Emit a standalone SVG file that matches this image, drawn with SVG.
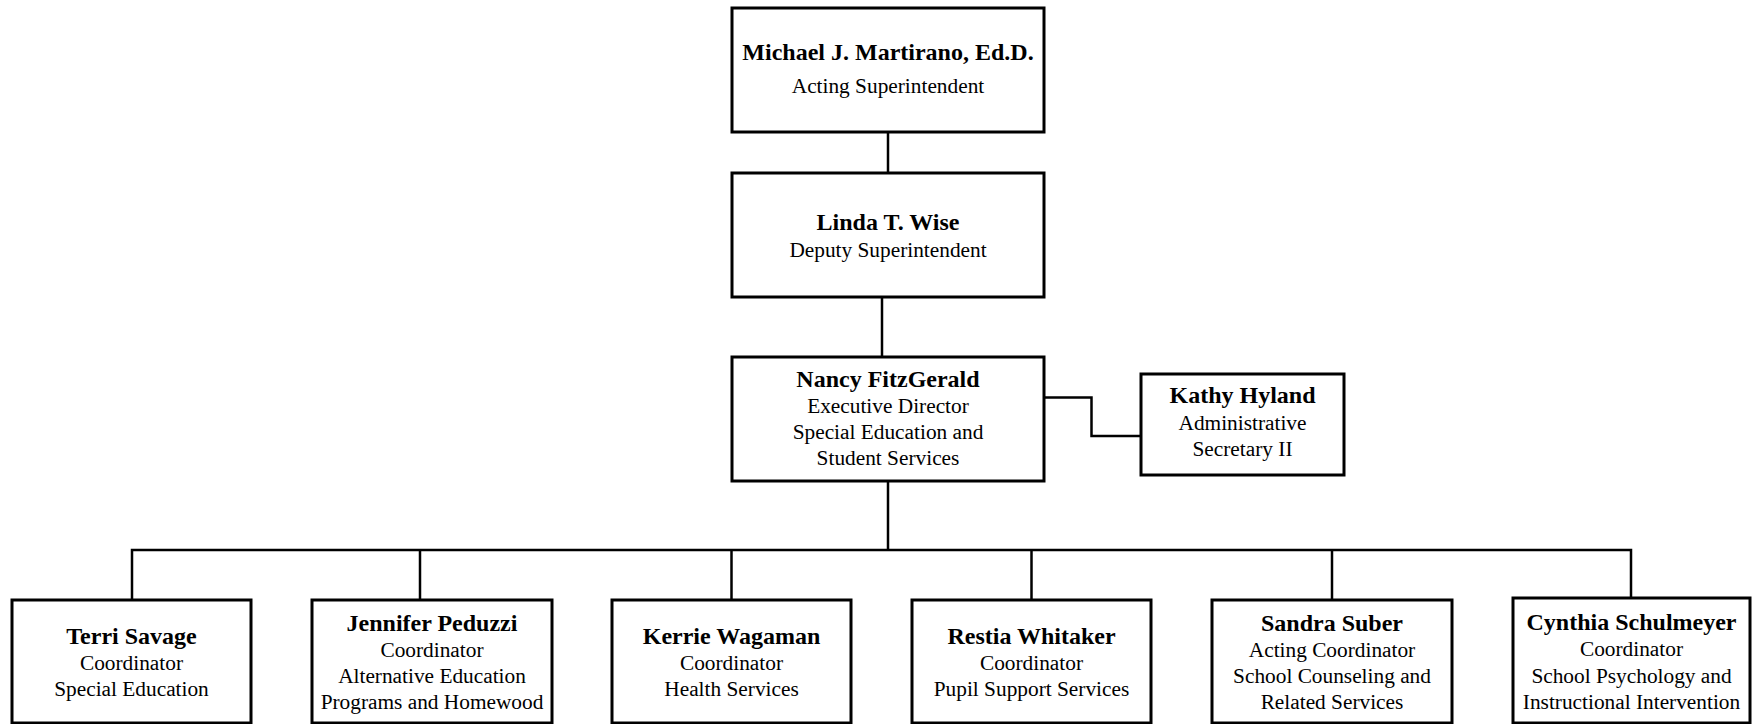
<svg xmlns="http://www.w3.org/2000/svg" width="1754" height="724" viewBox="0 0 1754 724">
<style>
.box{fill:#fff;stroke:#000;stroke-width:3}
.ln{fill:none;stroke:#000;stroke-width:2.5}
text{font-family:"Liberation Serif","Times New Roman",serif;fill:#000;text-anchor:middle}
.t{font-weight:bold;font-size:24px}
.s{font-size:21.33px}
</style>
<rect width="1754" height="724" fill="#fff"/>
<g id="connectors">
<path class="ln" d="M888 132V173"/>
<path class="ln" d="M882 297V357"/>
<path class="ln" d="M1044 397.5H1091.5V436H1141"/>
<path class="ln" d="M888 481V550"/>
<path class="ln" d="M132 600V550H1631V598"/>
<path class="ln" d="M420 550V600"/>
<path class="ln" d="M731.5 550V600"/>
<path class="ln" d="M1031.5 550V600"/>
<path class="ln" d="M1332 550V600"/>
</g>
<g id="n-martirano">
<rect class="box" x="732" y="8" width="312" height="124"/>
<text class="t" x="888" y="60">Michael J. Martirano, Ed.D.</text>
<text class="s" x="888" y="93">Acting Superintendent</text>
</g>
<g id="n-wise">
<rect class="box" x="732" y="173" width="312" height="124"/>
<text class="t" x="888" y="230">Linda T. Wise</text>
<text class="s" x="888" y="257">Deputy Superintendent</text>
</g>
<g id="n-fitzgerald">
<rect class="box" x="732" y="357" width="312" height="124"/>
<text class="t" x="888" y="387">Nancy FitzGerald</text>
<text class="s" x="888" y="413">Executive Director</text>
<text class="s" x="888" y="439">Special Education and</text>
<text class="s" x="888" y="465">Student Services</text>
</g>
<g id="n-hyland">
<rect class="box" x="1141" y="374" width="203" height="101"/>
<text class="t" x="1242.5" y="403">Kathy Hyland</text>
<text class="s" x="1242.5" y="430">Administrative</text>
<text class="s" x="1242.5" y="456">Secretary II</text>
</g>
<g id="n-savage">
<rect class="box" x="12" y="600" width="239" height="123"/>
<text class="t" x="131.5" y="644">Terri Savage</text>
<text class="s" x="131.5" y="670">Coordinator</text>
<text class="s" x="131.5" y="696">Special Education</text>
</g>
<g id="n-peduzzi">
<rect class="box" x="312" y="600" width="240" height="123"/>
<text class="t" x="432" y="631">Jennifer Peduzzi</text>
<text class="s" x="432" y="657">Coordinator</text>
<text class="s" x="432" y="683">Alternative Education</text>
<text class="s" x="432" y="709">Programs and Homewood</text>
</g>
<g id="n-wagaman">
<rect class="box" x="612" y="600" width="239" height="123"/>
<text class="t" x="731.5" y="644">Kerrie Wagaman</text>
<text class="s" x="731.5" y="670">Coordinator</text>
<text class="s" x="731.5" y="696">Health Services</text>
</g>
<g id="n-whitaker">
<rect class="box" x="912" y="600" width="239" height="123"/>
<text class="t" x="1031.5" y="644">Restia Whitaker</text>
<text class="s" x="1031.5" y="670">Coordinator</text>
<text class="s" x="1031.5" y="696">Pupil Support Services</text>
</g>
<g id="n-suber">
<rect class="box" x="1212" y="600" width="240" height="123"/>
<text class="t" x="1332" y="631">Sandra Suber</text>
<text class="s" x="1332" y="657">Acting Coordinator</text>
<text class="s" x="1332" y="683">School Counseling and</text>
<text class="s" x="1332" y="709">Related Services</text>
</g>
<g id="n-schulmeyer">
<rect class="box" x="1513" y="598" width="237" height="125"/>
<text class="t" x="1631.5" y="630">Cynthia Schulmeyer</text>
<text class="s" x="1631.5" y="656">Coordinator</text>
<text class="s" x="1631.5" y="683">School Psychology and</text>
<text class="s" x="1631.5" y="709">Instructional Intervention</text>
</g>
</svg>
